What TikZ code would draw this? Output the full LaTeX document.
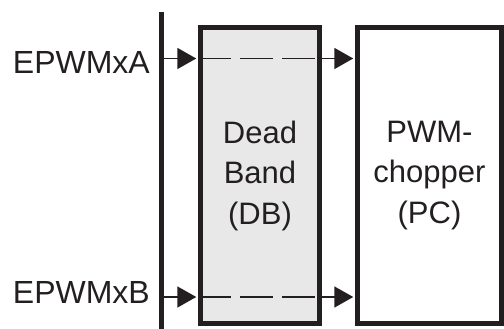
\documentclass[tikz,border=0pt]{standalone}
\usepackage{fontspec}
\setmainfont{Liberation Sans}
\usetikzlibrary{arrows.meta}
\definecolor{ink}{HTML}{231F20}
\definecolor{dbfill}{HTML}{E8E8E8}
\begin{document}
\begin{tikzpicture}[x=1pt,y=-1pt,
  blockbox/.style={draw=ink,line width=4.5pt,rectangle,inner sep=0pt,
    align=center,text=ink,font=\fontsize{31}{40.5}\selectfont},
  sig/.style={draw=ink,line width=1.8pt,-{Triangle[length=19pt,width=21pt]},shorten >=2pt},
  dashsig/.style={draw=ink,line width=1.8pt,dash pattern=on 33pt off 9pt},
  rail/.style={draw=ink,line width=4.8pt},
  lbl/.style={anchor=base east,inner sep=0pt,text=ink,font=\fontsize{32}{38}\selectfont}]
\useasboundingbox (0,0) rectangle (504,329);
% input rail
\coordinate (railtop) at (161.5,12);
\coordinate (railbot) at (161.5,329);
\draw[rail] (railtop) -- (railbot);
% blocks
\node[blockbox,fill=dbfill,minimum width=119pt,minimum height=296pt] (db) at (260,175.5) {Dead\\Band\\(DB)};
\node[blockbox,fill=white,minimum width=144pt,minimum height=296pt] (pc) at (429.5,175.5) {PWM-\\chopper\\(PC)};
% signal coordinates
\coordinate (ina) at (161.5,58.5);
\coordinate (inb) at (161.5,297);
% labels
\node[lbl] (la) at (150,74) {EPWMxA};
\node[lbl] (lb) at (150,303.3) {EPWMxB};
% dashed paths through DB
\draw[dashsig] (ina -| db.west) -- (ina -| db.east);
\draw[dashsig] (inb -| db.west) -- (inb -| db.east);
% redraw DB border on top of the dashed lines
\node[blockbox,minimum width=119pt,minimum height=296pt] at (db.center) {};
% arrows
\draw[sig] (ina) -- (ina -| db.west);
\draw[sig] (inb) -- (inb -| db.west);
\draw[sig] (ina -| db.east) -- (ina -| pc.west);
\draw[sig] (inb -| db.east) -- (inb -| pc.west);
\end{tikzpicture}
\end{document}
